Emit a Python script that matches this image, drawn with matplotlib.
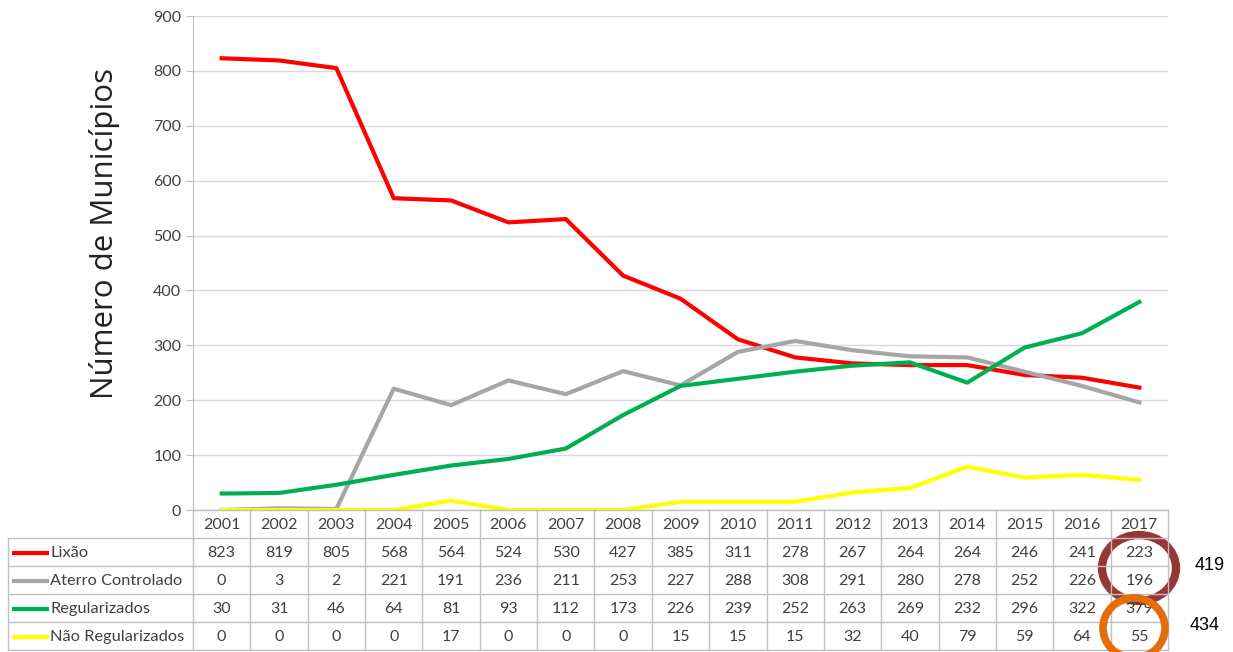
import matplotlib.pyplot as plt
from matplotlib.patches import Ellipse

anos = [str(a) for a in range(2001, 2018)]
lixao = [823, 819, 805, 568, 564, 524, 530, 427, 385, 311, 278, 267, 264, 264, 246, 241, 223]
aterro = [0, 3, 2, 221, 191, 236, 211, 253, 227, 288, 308, 291, 280, 278, 252, 226, 196]
regularizados = [30, 31, 46, 64, 81, 93, 112, 173, 226, 239, 252, 263, 269, 232, 296, 322, 379]
nao_regularizados = [0, 0, 0, 0, 17, 0, 0, 0, 15, 15, 15, 32, 40, 79, 59, 64, 55]

series = [
    ("Lixão", lixao, "#ff0000"),
    ("Aterro Controlado", aterro, "#a6a6a6"),
    ("Regularizados", regularizados, "#00b050"),
    ("Não Regularizados", nao_regularizados, "#ffff00"),
]

W, H = 1233, 652
fig = plt.figure(figsize=(W / 100, H / 100), dpi=100)
font = "Lato"
txt = "#404040"
grid_c = "#d9d9d9"
tab_c = "#bfbfbf"

# plot area in pixels
x0, x1 = 193, 1168
y_top, y_bot = 16, 510
ax = fig.add_axes([x0 / W, (H - y_bot) / H, (x1 - x0) / W, (y_bot - y_top) / H])
n = len(anos)
xs = [i + 0.5 for i in range(n)]
for nome, vals, cor in series:
    ax.plot(xs, vals, color=cor, lw=3, solid_joinstyle="round", zorder=3)
ax.set_xlim(0, n)
ax.set_ylim(0, 900)
ax.set_yticks(range(0, 901, 100))
ax.set_xticks([])
ax.grid(axis="y", color=grid_c, lw=1)
ax.set_axisbelow(True)
for s in ["top", "right", "bottom"]:
    ax.spines[s].set_visible(False)
ax.spines["left"].set_color(tab_c)
ax.tick_params(axis="y", length=5, color=tab_c, labelcolor=txt, labelsize=11.5)
for lab in ax.get_yticklabels():
    lab.set_fontfamily(font)
ax.set_ylabel("Número de Municípios", fontsize=22.5, family="Open Sans", color="#222222")
ax.yaxis.set_label_coords(-0.075, 0.559)

# overlay in pixel coordinates for the data table and highlights
ov = fig.add_axes([0, 0, 1, 1], zorder=5)
ov.set_xlim(0, W)
ov.set_ylim(H, 0)
ov.axis("off")
ov.patch.set_alpha(0)

col_w = (x1 - x0) / n
rows = [538, 566, 594, 622, 650]
ov.plot([x0, x1], [y_bot, y_bot], color=tab_c, lw=1)
for y in rows:
    ov.plot([8, x1], [y, y], color=tab_c, lw=1)
ov.plot([8, 8], [rows[0], rows[-1]], color=tab_c, lw=1)
for i in range(n + 1):
    xv = x0 + i * col_w
    ov.plot([xv, xv], [y_bot, rows[-1]], color=tab_c, lw=1)

for i, a in enumerate(anos):
    ov.text(x0 + (i + 0.5) * col_w, (y_bot + rows[0]) / 2 + 1, a, ha="center", va="center",
            fontsize=11.5, family=font, color=txt)

for r, (nome, vals, cor) in enumerate(series):
    yc = (rows[r] + rows[r + 1]) / 2 + 1
    ov.plot([12, 49], [yc, yc], color=cor, lw=3, solid_capstyle="butt")
    ov.text(50, yc, nome, ha="left", va="center", fontsize=11.8, family=font, color=txt)
    for i, v in enumerate(vals):
        ov.text(x0 + (i + 0.5) * col_w, yc, str(v), ha="center", va="center",
                fontsize=11.5, family=font, color=txt)

ov.add_patch(Ellipse((1139, 568), 74, 66, fill=False, ec="#953735", lw=6))
ov.add_patch(Ellipse((1134, 628), 62, 60, fill=False, ec="#e46c0a", lw=5.5, zorder=4))
ov.text(1195, 566, "419", ha="left", va="center", fontsize=13, family="Liberation Sans", color="black")
ov.text(1190, 626, "434", ha="left", va="center", fontsize=13, family="Liberation Sans", color="black")

fig.savefig("out.png", dpi=100)
